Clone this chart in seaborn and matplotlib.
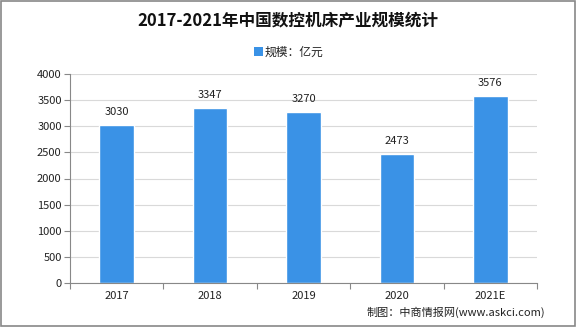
import matplotlib
matplotlib.use("Agg")
import matplotlib.pyplot as plt
import seaborn as sns
import pandas as pd
import numpy as np
from matplotlib.patches import Rectangle

years = ["2017", "2018", "2019", "2020", "2021E"]
values = [3030, 3347, 3270, 2473, 3576]
title = "2017-2021年中国数控机床产业规模统计"
legend_label = "规模：亿元"
source = "制图：中商情报网(www.askci.com)"

sns.set_theme(style="white")
plt.rcParams['font.family'] = ['Noto Sans CJK SC', 'DejaVu Sans']

df = pd.DataFrame({"year": years, "value": values})
fig = plt.figure(figsize=(5.76, 3.27), dpi=100)
ax = fig.add_axes([70/576, 1-283/327, (537-70)/576, (283-74)/327])
color = "#3a92e6"
sns.barplot(data=df, x="year", y="value", color=color, width=0.37, ax=ax,
            saturation=1, label=legend_label)
ax.set_ylim(0, 4000)
ax.set_xlim(-0.5, len(years)-0.5)
ax.set_yticks(np.arange(0, 4001, 500))
ax.yaxis.grid(True, color="#d9d9d9", linewidth=0.8)
ax.set_axisbelow(True)
ax.set_xlabel("")
ax.set_ylabel("")
for s in ["top", "right"]:
    ax.spines[s].set_visible(False)
for s in ["left", "bottom"]:
    ax.spines[s].set_color("#888888")
    ax.spines[s].set_linewidth(0.8)
ax.tick_params(axis="y", labelsize=8, length=4, color="#888888", width=0.8, pad=2, left=True, labelcolor="#222222")
ax.tick_params(axis="x", labelsize=8, length=0, pad=6, labelcolor="#222222")
ax.set_xticks(np.arange(-0.5, len(years), 1.0), minor=True)
ax.tick_params(axis="x", which="minor", length=4, color="#888888", width=0.8, bottom=True)
for i, v in enumerate(values):
    ax.text(i, v + 250, str(v), ha="center", va="center", fontsize=8, color="#222222")
if ax.get_legend():
    ax.get_legend().remove()

fig.text(0.5, 1-20/327, title, ha="center", va="center", fontsize=12, fontweight="bold", color="#111111")
fig.patches.append(Rectangle((254/576, 1-56/327), 9/576, 9/327, transform=fig.transFigure,
                             facecolor=color, edgecolor="none"))
fig.text(265/576, 1-52/327, legend_label, ha="left", va="center", fontsize=8.5, color="#222222")
fig.text(545/576, 1-312/327, source, ha="right", va="center", fontsize=8, color="#222222")
fig.patches.append(Rectangle((0.001, 0.002), 0.997, 0.995, transform=fig.transFigure,
                             facecolor="none", edgecolor="#888888", linewidth=1.2))
fig.savefig("out.png", dpi=100)
